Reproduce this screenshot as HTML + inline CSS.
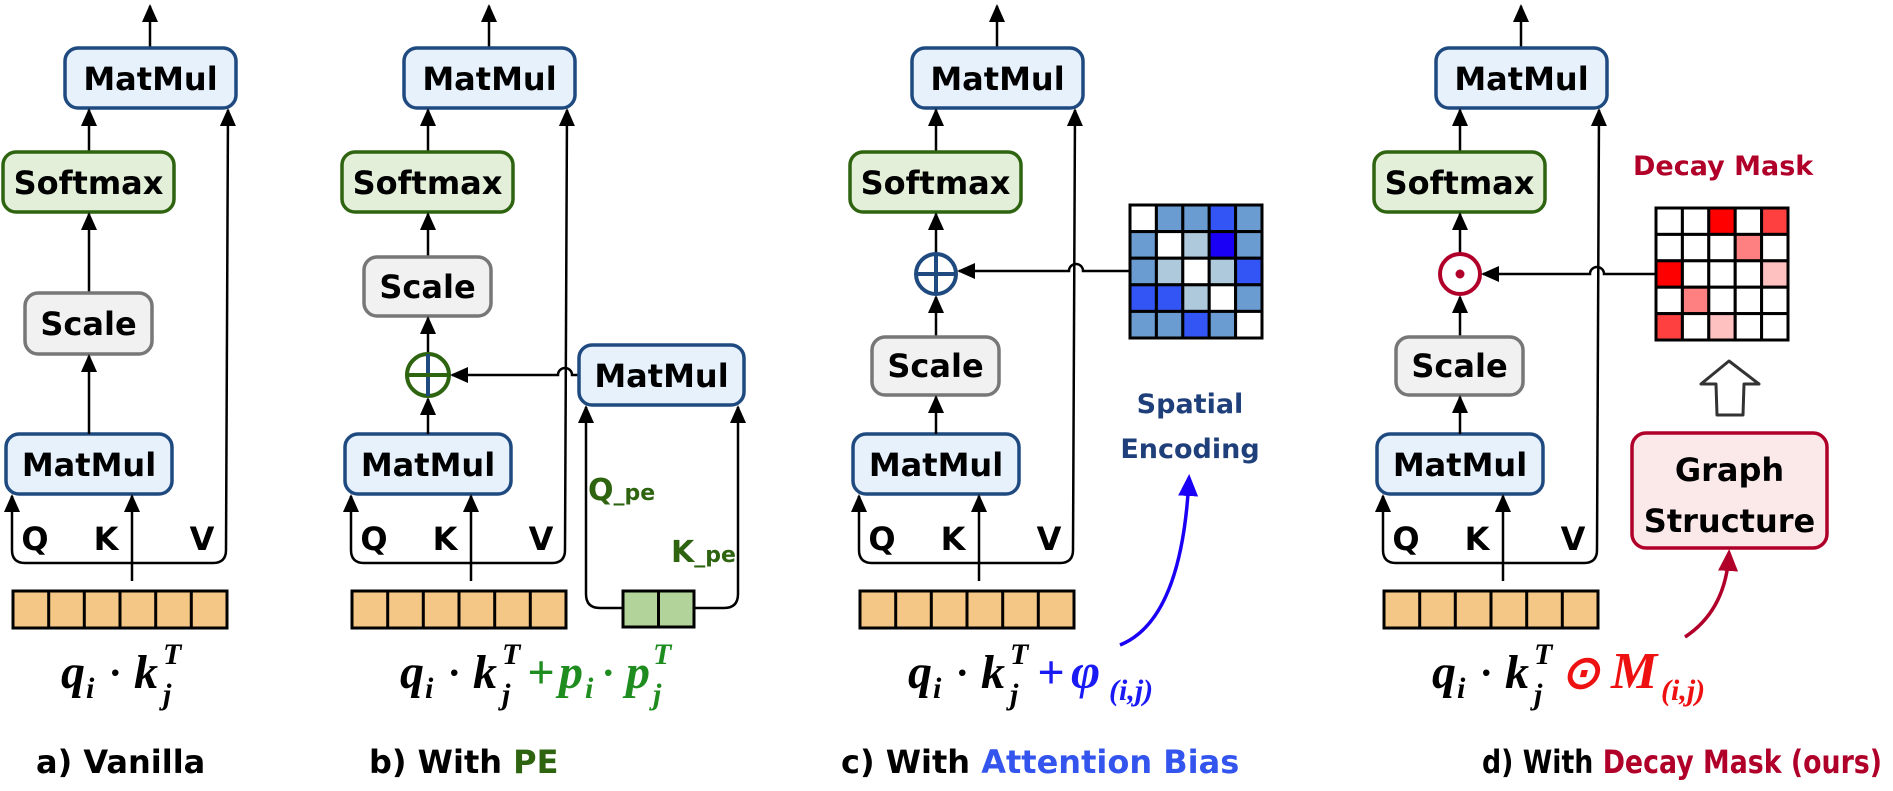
<!DOCTYPE html>
<html><head><meta charset="utf-8"><style>html,body{margin:0;padding:0;background:#fff}svg{display:block}</style></head>
<body>
<svg width="1893" height="791" viewBox="0 0 1893 791" xmlns="http://www.w3.org/2000/svg">
<defs>
<marker id="a" markerUnits="userSpaceOnUse" markerWidth="18" markerHeight="18" refX="16" refY="8" orient="auto" viewBox="0 0 18 16"><path d="M0,0 L18,8 L0,16 z" fill="#000"/></marker>
<marker id="ab" markerUnits="userSpaceOnUse" markerWidth="22" markerHeight="22" refX="18" refY="10" orient="auto" viewBox="0 0 22 20"><path d="M0,0 L22,10 L0,20 z" fill="#1a00f5"/></marker>
<marker id="arr" markerUnits="userSpaceOnUse" markerWidth="22" markerHeight="22" refX="18" refY="10" orient="auto" viewBox="0 0 22 20"><path d="M0,0 L22,10 L0,20 z" fill="#b0002a"/></marker>
<g id="cells">
<rect x="0" y="0" width="214" height="37" fill="#f4c786" stroke="#000" stroke-width="3"/>
<path d="M35.7,0V37M71.3,0V37M107,0V37M142.7,0V37M178.3,0V37" stroke="#000" stroke-width="3"/>
</g>
</defs>
<style>
.bx{font-family:"DejaVu Sans",sans-serif;font-weight:bold;font-size:32px;text-anchor:middle}
.mm{fill:#e6f1fc;stroke:#1f4a80;stroke-width:3.5}
.sm{fill:#e3efd9;stroke:#2e6410;stroke-width:3.5}
.sc{fill:#f1f1f1;stroke:#777;stroke-width:3.5}
.ln{stroke:#000;stroke-width:2.5;fill:none}
.fm{font-family:"Liberation Serif",serif;font-weight:bold;font-style:italic}
.cap{font-family:"DejaVu Sans",sans-serif;font-weight:bold;font-size:32px}
</style>

<g id="base">
<line class="ln" x1="150" y1="48" x2="150" y2="6" marker-end="url(#a)"/>
<rect class="mm" x="65" y="48" width="171" height="60" rx="13"/>
<text class="bx" x="150.5" y="90">MatMul</text>
<line class="ln" x1="89" y1="152" x2="89" y2="110" marker-end="url(#a)"/>
<rect class="sm" x="3" y="152" width="171" height="60" rx="13"/>
<text class="bx" x="88.5" y="194">Softmax</text>
<rect class="mm" x="6" y="434" width="166" height="60" rx="13"/>
<text class="bx" x="89" y="476">MatMul</text>
<path class="ln" d="M226,550 L228,110" marker-end="url(#a)"/>
<path class="ln" d="M12,520 L12,550 Q12,563 25,563 L213,563 Q226,563 226,550"/>
<line class="ln" x1="12" y1="520" x2="12" y2="496" marker-end="url(#a)"/>
<line class="ln" x1="132" y1="581" x2="132" y2="496" marker-end="url(#a)"/>
<text class="bx" x="35" y="550">Q</text>
<text class="bx" x="106" y="550">K</text>
<text class="bx" x="202" y="550">V</text>
<use href="#cells" x="13" y="591"/>
<text class="fm" x="61" y="688" font-size="48">q</text>
<text class="fm" x="86" y="698" font-size="30">i</text>
<text class="fm" x="110" y="686" font-size="40" font-style="normal">·</text>
<text class="fm" x="134" y="688" font-size="48">k</text>
<text class="fm" x="163" y="664" font-size="30">T</text>
<text class="fm" x="163" y="704" font-size="30">j</text>
</g>

<line class="ln" x1="89" y1="293" x2="89" y2="214" marker-end="url(#a)"/>
<rect class="sc" x="25" y="293" width="127" height="61" rx="13"/>
<text class="bx" x="88.5" y="335">Scale</text>
<line class="ln" x1="89" y1="434" x2="89" y2="356" marker-end="url(#a)"/>
<text class="cap" x="36" y="773">a) Vanilla</text>

<g transform="translate(339,0)">
<use href="#base"/>
<line class="ln" x1="89" y1="257" x2="89" y2="214" marker-end="url(#a)"/>
<rect class="sc" x="25" y="257" width="127" height="59" rx="13"/>
<text class="bx" x="88.5" y="298">Scale</text>
<line class="ln" x1="89" y1="353" x2="89" y2="318" marker-end="url(#a)"/>
<line class="ln" x1="89" y1="434" x2="89" y2="399" marker-end="url(#a)"/>
<circle cx="89" cy="375" r="21" fill="#fff" stroke="#2e6410" stroke-width="4"/>
<line x1="89" y1="354" x2="89" y2="396" stroke="#1f4a80" stroke-width="4"/>
<line x1="68" y1="375" x2="110" y2="375" stroke="#2e6410" stroke-width="4"/>
<path class="ln" d="M240,375 L233,375 A7,7 0 0 0 219,375 L113,375" marker-end="url(#a)"/>
<rect class="mm" x="240" y="345" width="165" height="60" rx="13"/>
<text class="bx" x="322.5" y="387">MatMul</text>
<path class="ln" d="M284,608 L261,608 Q247,608 247,594 L247,407" marker-end="url(#a)"/>
<path class="ln" d="M355,608 L385,608 Q399,608 399,594 L399,407" marker-end="url(#a)"/>
<rect x="284" y="591" width="71" height="36" fill="#b2d49a" stroke="#000" stroke-width="3"/>
<line x1="319.5" y1="591" x2="319.5" y2="627" stroke="#000" stroke-width="3"/>
<text font-family="DejaVu Sans,sans-serif" font-weight="bold" font-size="30" fill="#2e6410" x="249" y="500">Q<tspan font-size="22">_pe</tspan></text>
<text font-family="DejaVu Sans,sans-serif" font-weight="bold" font-size="30" fill="#2e6410" x="332" y="562">K<tspan font-size="22">_pe</tspan></text>
<text class="fm" x="188" y="688" font-size="48" fill="#1e8c1e" font-style="normal" font-weight="normal">+</text>
<text class="fm" x="220" y="688" font-size="48" fill="#1e8c1e">p</text>
<text class="fm" x="246" y="698" font-size="30" fill="#1e8c1e">i</text>
<text class="fm" x="264" y="686" font-size="40" fill="#1e8c1e" font-style="normal">·</text>
<text class="fm" x="287" y="688" font-size="48" fill="#1e8c1e">p</text>
<text class="fm" x="314" y="664" font-size="30" fill="#1e8c1e">T</text>
<text class="fm" x="314" y="704" font-size="30" fill="#1e8c1e">j</text>
<text class="cap" x="30" y="773">b) With <tspan fill="#2e6410">PE</tspan></text>
</g>

<g transform="translate(847,0)">
<use href="#base"/>
<line class="ln" x1="89" y1="253" x2="89" y2="214" marker-end="url(#a)"/>
<line class="ln" x1="89" y1="337" x2="89" y2="297" marker-end="url(#a)"/>
<rect class="sc" x="25" y="337" width="127" height="58" rx="13"/>
<text class="bx" x="88.5" y="377">Scale</text>
<line class="ln" x1="89" y1="434" x2="89" y2="397" marker-end="url(#a)"/>
<circle cx="89" cy="274" r="20" fill="#fff" stroke="#1f4a80" stroke-width="4"/>
<line x1="89" y1="254" x2="89" y2="294" stroke="#1f4a80" stroke-width="4"/>
<line x1="69" y1="274" x2="109" y2="274" stroke="#1f4a80" stroke-width="4"/>
<path class="ln" d="M283,271 L236,271 A7,7 0 0 0 222,271 L112,271" marker-end="url(#a)"/>
<g transform="translate(283,205)" stroke="#000" stroke-width="3">
<rect x="0" y="0" width="26.4" height="26.6" fill="#fff"/><rect x="26.4" y="0" width="26.4" height="26.6" fill="#6a9bd1"/><rect x="52.8" y="0" width="26.4" height="26.6" fill="#6a9bd1"/><rect x="79.2" y="0" width="26.4" height="26.6" fill="#3355f5"/><rect x="105.6" y="0" width="26.4" height="26.6" fill="#6a9bd1"/>
<rect x="0" y="26.6" width="26.4" height="26.6" fill="#6a9bd1"/><rect x="26.4" y="26.6" width="26.4" height="26.6" fill="#fff"/><rect x="52.8" y="26.6" width="26.4" height="26.6" fill="#aec8dc"/><rect x="79.2" y="26.6" width="26.4" height="26.6" fill="#1a00f5"/><rect x="105.6" y="26.6" width="26.4" height="26.6" fill="#6a9bd1"/>
<rect x="0" y="53.2" width="26.4" height="26.6" fill="#6a9bd1"/><rect x="26.4" y="53.2" width="26.4" height="26.6" fill="#aec8dc"/><rect x="52.8" y="53.2" width="26.4" height="26.6" fill="#fff"/><rect x="79.2" y="53.2" width="26.4" height="26.6" fill="#aec8dc"/><rect x="105.6" y="53.2" width="26.4" height="26.6" fill="#3355f5"/>
<rect x="0" y="79.8" width="26.4" height="26.6" fill="#3355f5"/><rect x="26.4" y="79.8" width="26.4" height="26.6" fill="#3355f5"/><rect x="52.8" y="79.8" width="26.4" height="26.6" fill="#aec8dc"/><rect x="79.2" y="79.8" width="26.4" height="26.6" fill="#fff"/><rect x="105.6" y="79.8" width="26.4" height="26.6" fill="#6a9bd1"/>
<rect x="0" y="106.4" width="26.4" height="26.6" fill="#6a9bd1"/><rect x="26.4" y="106.4" width="26.4" height="26.6" fill="#6a9bd1"/><rect x="52.8" y="106.4" width="26.4" height="26.6" fill="#3355f5"/><rect x="79.2" y="106.4" width="26.4" height="26.6" fill="#6a9bd1"/><rect x="105.6" y="106.4" width="26.4" height="26.6" fill="#fff"/>
</g>
<text font-family="DejaVu Sans,sans-serif" font-weight="bold" font-size="27" fill="#1f3f7a" text-anchor="middle" x="343" y="413">Spatial</text>
<text font-family="DejaVu Sans,sans-serif" font-weight="bold" font-size="27" fill="#1f3f7a" text-anchor="middle" x="343" y="458">Encoding</text>
<path d="M273,645 Q335,620 342,478" fill="none" stroke="#1a00f5" stroke-width="3.5" marker-end="url(#ab)"/>
<text class="fm" x="190" y="688" font-size="48" fill="#1a1af5" font-style="normal" font-weight="normal">+</text>
<text class="fm" x="224" y="688" font-size="50" fill="#1a1af5">φ</text>
<text class="fm" x="262" y="700" font-size="30" fill="#1a1af5">(i,j)</text>
<text class="cap" x="-6" y="773">c) With <tspan fill="#3355ee">Attention Bias</tspan></text>
</g>

<g transform="translate(1371,0)">
<use href="#base"/>
<line class="ln" x1="89" y1="253" x2="89" y2="214" marker-end="url(#a)"/>
<line class="ln" x1="89" y1="337" x2="89" y2="297" marker-end="url(#a)"/>
<rect class="sc" x="25" y="337" width="127" height="58" rx="13"/>
<text class="bx" x="88.5" y="377">Scale</text>
<line class="ln" x1="89" y1="434" x2="89" y2="397" marker-end="url(#a)"/>
<circle cx="89" cy="274" r="20" fill="#fff" stroke="#b0002a" stroke-width="4"/>
<circle cx="89" cy="274" r="4.5" fill="#b0002a"/>
<path class="ln" d="M285,274 L233,274 A7,7 0 0 0 219,274 L112,274" marker-end="url(#a)"/>
<g transform="translate(285,208)" stroke="#000" stroke-width="3">
<rect x="0" y="0" width="26.4" height="26.4" fill="#fff"/><rect x="26.4" y="0" width="26.4" height="26.4" fill="#fff"/><rect x="52.8" y="0" width="26.4" height="26.4" fill="#ff0000"/><rect x="79.2" y="0" width="26.4" height="26.4" fill="#fff"/><rect x="105.6" y="0" width="26.4" height="26.4" fill="#ff4040"/>
<rect x="0" y="26.4" width="26.4" height="26.4" fill="#fff"/><rect x="26.4" y="26.4" width="26.4" height="26.4" fill="#fff"/><rect x="52.8" y="26.4" width="26.4" height="26.4" fill="#fff"/><rect x="79.2" y="26.4" width="26.4" height="26.4" fill="#ff8080"/><rect x="105.6" y="26.4" width="26.4" height="26.4" fill="#fff"/>
<rect x="0" y="52.8" width="26.4" height="26.4" fill="#ff0000"/><rect x="26.4" y="52.8" width="26.4" height="26.4" fill="#fff"/><rect x="52.8" y="52.8" width="26.4" height="26.4" fill="#fff"/><rect x="79.2" y="52.8" width="26.4" height="26.4" fill="#fff"/><rect x="105.6" y="52.8" width="26.4" height="26.4" fill="#ffc0c0"/>
<rect x="0" y="79.2" width="26.4" height="26.4" fill="#fff"/><rect x="26.4" y="79.2" width="26.4" height="26.4" fill="#ff8080"/><rect x="52.8" y="79.2" width="26.4" height="26.4" fill="#fff"/><rect x="79.2" y="79.2" width="26.4" height="26.4" fill="#fff"/><rect x="105.6" y="79.2" width="26.4" height="26.4" fill="#fff"/>
<rect x="0" y="105.6" width="26.4" height="26.4" fill="#ff4040"/><rect x="26.4" y="105.6" width="26.4" height="26.4" fill="#fff"/><rect x="52.8" y="105.6" width="26.4" height="26.4" fill="#ffc0c0"/><rect x="79.2" y="105.6" width="26.4" height="26.4" fill="#fff"/><rect x="105.6" y="105.6" width="26.4" height="26.4" fill="#fff"/>
</g>
<text font-family="DejaVu Sans,sans-serif" font-weight="bold" font-size="27" fill="#b0002a" x="262" y="175">Decay Mask</text>
<path d="M346,415 L372,415 L373,384 L388,384 L358,361 L330,384 L345,384 Z" fill="#fff" stroke="#333" stroke-width="3" stroke-linejoin="round"/>
<rect x="261" y="433" width="195" height="115" rx="14" fill="#fbe9ea" stroke="#b0002a" stroke-width="3.5"/>
<text class="bx" x="358.5" y="481" font-size="31">Graph</text>
<text class="bx" x="358.5" y="532" font-size="31">Structure</text>
<path d="M314,637 Q355,610 358,553" fill="none" stroke="#b0002a" stroke-width="3.5" marker-end="url(#arr)"/>
<text class="fm" x="190" y="688" font-size="46" fill="#ee1111" font-style="normal" font-weight="normal">⊙</text>
<text class="fm" x="240" y="688" font-size="52" fill="#ee1111">M</text>
<text class="fm" x="290" y="700" font-size="30" fill="#ee1111">(i,j)</text>
<text class="cap" x="111" y="773" textLength="400" lengthAdjust="spacingAndGlyphs">d) With <tspan fill="#b0002a">Decay Mask (ours)</tspan></text>
</g>
</svg>
</body></html>
